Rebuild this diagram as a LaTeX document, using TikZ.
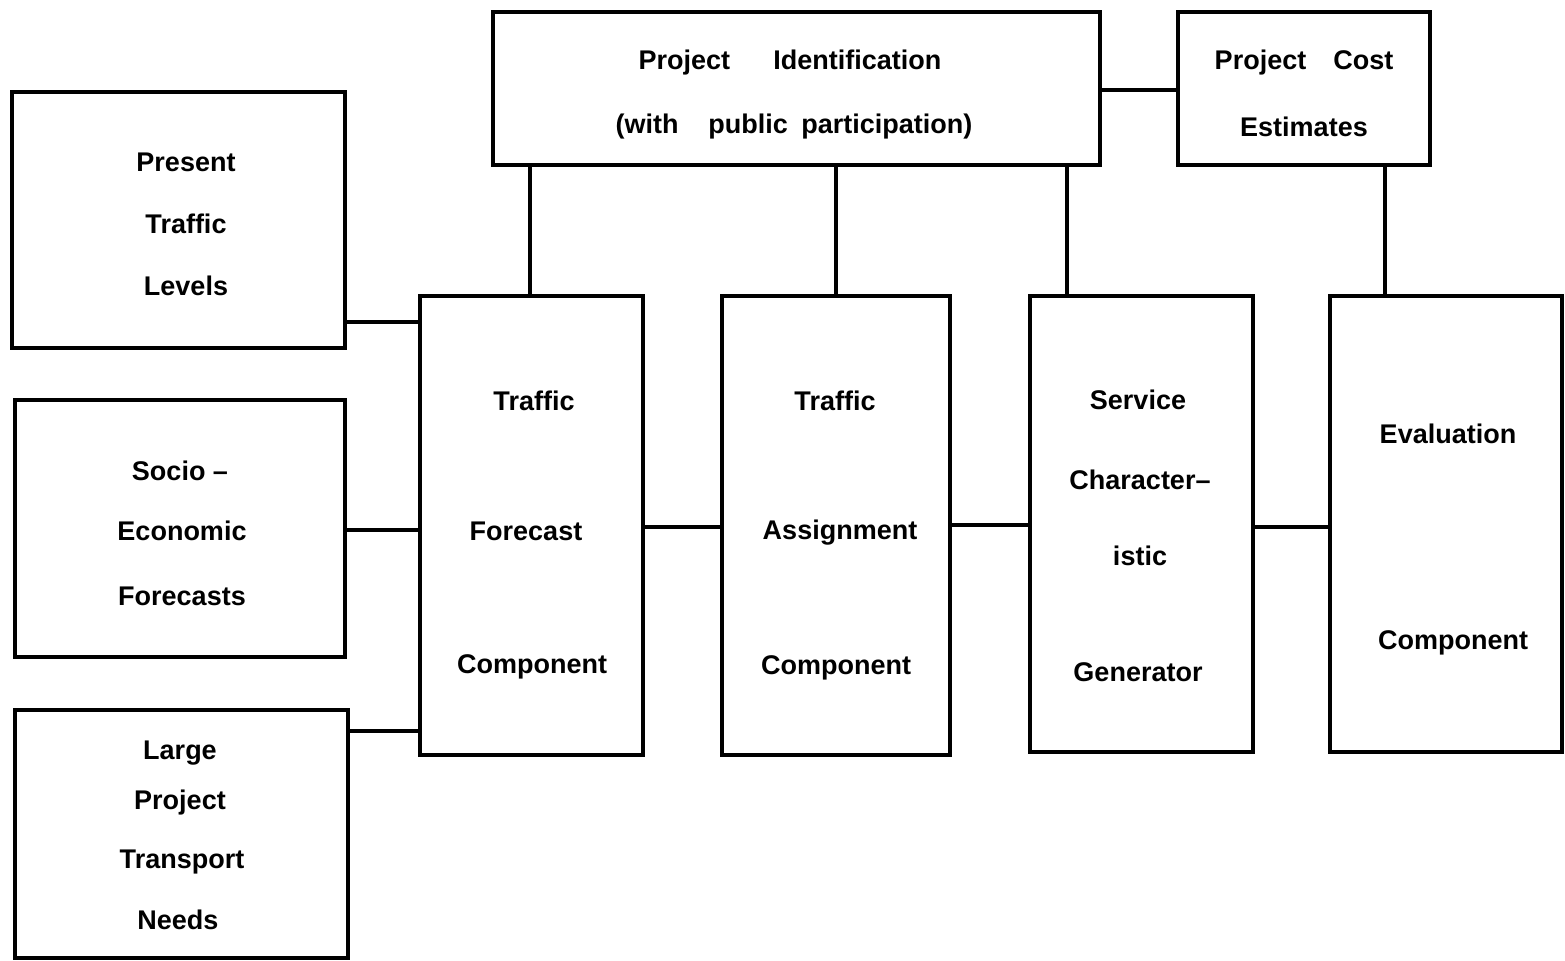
\documentclass[tikz,border=0pt]{standalone}
\usepackage{fontspec}
\setmainfont{Liberation Sans}
\begin{document}
\begin{tikzpicture}[x=0.5pt,y=-0.5pt,
  box/.style={draw=black, line width=1.9pt, rectangle, inner sep=0pt},
  lbl/.style={font=\fontsize{13.5}{16}\selectfont\bfseries, inner sep=0pt, anchor=center},
  conn/.style={draw=black, line width=1.9pt}]
\useasboundingbox (0,0) rectangle (1565,960);
% boxes
\node[box, minimum width=166.5pt, minimum height=128pt] (ptl) at (178.5,220) {};
\node[box, minimum width=165pt, minimum height=128.5pt] (seo) at (180,528.5) {};
\node[box, minimum width=166.5pt, minimum height=124pt] (lpt) at (181.5,834) {};
\node[box, minimum width=303.5pt, minimum height=76.5pt] (pid) at (796.5,88.5) {};
\node[box, minimum width=126pt, minimum height=76.5pt] (pce) at (1304,88.5) {};
\node[box, minimum width=111.5pt, minimum height=229.5pt] (tfc) at (531.5,525.5) {};
\node[box, minimum width=114pt, minimum height=229.5pt] (tac) at (836,525.5) {};
\node[box, minimum width=111.5pt, minimum height=228pt] (scg) at (1141.5,524) {};
\node[box, minimum width=116pt, minimum height=228pt] (evc) at (1446,524) {};
% labels
\node[lbl] (l1a) at (186,162) {Present};
\node[lbl] (l1b) at (186,224) {Traffic};
\node[lbl] (l1c) at (186,286) {Levels};
\node[lbl] (l2a) at (180,471) {Socio --};
\node[lbl] (l2b) at (182,531) {Economic};
\node[lbl] (l2c) at (182,596) {Forecasts};
\node[lbl] (l3a) at (180,753) {Large};
\node[lbl] (l3b) at (180,803) {Project};
\node[lbl] (l3c) at (182,862) {Transport};
\node[lbl] (l3d) at (178,920) {Needs};
\node[lbl] (l4a) at (790,63) {Project\hspace{1.6em}Identification};
\node[lbl] (l4b) at (794,127) {(with\hspace{1.1em}public\hspace{0.5em}participation)};
\node[lbl] (l5a) at (1304,63) {Project\hspace{1em}Cost};
\node[lbl] (l5b) at (1304,127) {Estimates};
\node[lbl] (l6a) at (534,401) {Traffic};
\node[lbl] (l6b) at (526,531) {Forecast};
\node[lbl] (l6c) at (532,667) {Component};
\node[lbl] (l7a) at (835,401) {Traffic};
\node[lbl] (l7b) at (840,533) {Assignment};
\node[lbl] (l7c) at (836,668) {Component};
\node[lbl] (l8a) at (1138,400) {Service};
\node[lbl] (l8b) at (1140,480) {Character--};
\node[lbl] (l8c) at (1140,556) {istic};
\node[lbl] (l8d) at (1138,672) {Generator};
\node[lbl] (l9a) at (1448,434) {Evaluation};
\node[lbl] (l9b) at (1453,643) {Component};
% connectors
\draw[conn] (ptl.east |- 0,322) -- (tfc.west |- 0,322);
\draw[conn] (seo.east |- 0,530) -- (tfc.west |- 0,530);
\draw[conn] (lpt.east |- 0,731) -- (tfc.west |- 0,731);
\draw[conn] (tfc.east |- 0,527) -- (tac.west |- 0,527);
\draw[conn] (tac.east |- 0,525) -- (scg.west |- 0,525);
\draw[conn] (scg.east |- 0,527) -- (evc.west |- 0,527);
\draw[conn] (pid.east |- 0,90) -- (pce.west |- 0,90);
\draw[conn] (pid.south -| 530,0) -- (tfc.north -| 530,0);
\draw[conn] (pid.south -| 836,0) -- (tac.north -| 836,0);
\draw[conn] (pid.south -| 1067,0) -- (scg.north -| 1067,0);
\draw[conn] (pce.south -| 1385,0) -- (evc.north -| 1385,0);
\end{tikzpicture}
\end{document}
